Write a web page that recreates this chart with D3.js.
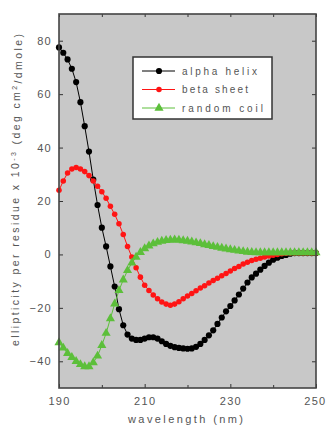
<!DOCTYPE html>
<html>
<head>
<meta charset="utf-8">
<script src="https://cdn.jsdelivr.net/npm/d3@7"></script>
<style>
  body { margin: 0; background: #fff; }
  svg text { font-family: "Liberation Sans", Arial, sans-serif; fill: #555; }
</style>
</head>
<body>
<div id="chart"></div>
<script>
// wavelength (nm), one reading per nm
let wavelength = [190,191,192,193,194,195,196,197,198,199,200,201,202,203,204,205,206,207,208,209,
  210,211,212,213,214,215,216,217,218,219,220,221,222,223,224,225,226,227,228,229,
  230,231,232,233,234,235,236,237,238,239,240,241,242,243,244,245,246,247,248,249,250];

let alphaHelix = [77.5,75.5,73,69.5,64.5,57,48,38.5,28,18.5,10,3,-4.5,-12,-20.5,-26.5,-30,-31.5,-32,-32,
  -31.5,-31,-31,-31.5,-32.5,-33.5,-34.2,-34.7,-35,-35.2,-35.3,-35.2,-34.6,-33.5,-32,-30.3,-28.4,-26,-23.6,-21.3,
  -19.3,-17.2,-15,-12.8,-10.5,-8.6,-7.2,-5.7,-4.3,-3.1,-2,-1.2,-0.6,-0.2,0.3,0.5,0.5,0.5,0.5,0.5,0.5];

let betaSheet = [24,27.5,30.5,32,32.5,32,31,29.5,27.5,25.5,23.5,21,18,15,11.5,7.5,3,-1,-5,-8.5,
  -11.5,-13.5,-15.2,-16.6,-17.8,-18.6,-19,-18.6,-17.7,-16.6,-15.6,-14.6,-13.6,-12.6,-11.7,-10.7,-9.8,-8.9,-8,-7.1,
  -6.2,-5.3,-4.5,-3.6,-2.9,-2.3,-1.8,-1.4,-1,-0.6,-0.3,0,0.3,0.4,0.5,0.5,0.5,0.5,0.5,0.5,0.5];

let randomCoil = [-33,-35,-37,-38.5,-40,-41.2,-42,-42,-40.5,-38,-34,-29.5,-24,-18.5,-13.5,-9.5,-6,-3.2,-1,0.8,
  2.2,3.2,4,4.6,5,5.3,5.4,5.5,5.4,5.2,5,4.7,4.4,4.1,3.7,3.4,3,2.7,2.4,2.1,
  1.8,1.6,1.3,1.1,0.9,0.8,0.7,0.7,0.7,0.7,0.7,0.7,0.7,0.7,0.7,0.7,0.7,0.7,0.7,0.7,0.7];

let seriesNames = ["alpha helix", "beta sheet", "random coil"];
let seriesColors = ["#000000", "#ff1414", "#5cbf3a"];
let xTicks = [190, 210, 230, 250];
let xMinorTicks = [200, 220, 240];
let yTicks = [80, 60, 40, 20, 0, -20, -40];

let svgWidth = 326;
let svgHeight = 428;
let margin = { top: 14, right: 10, bottom: 40, left: 59 };
let width = svgWidth - margin.left - margin.right;
let height = svgHeight - margin.top - margin.bottom;

let svg = d3.select("#chart")
  .append("svg")
  .attr("width", svgWidth)
  .attr("height", svgHeight);

let chartGroup = svg.append("g")
  .attr("transform", `translate(${margin.left}, ${margin.top})`);

let xScale = d3.scaleLinear().domain([190, 250]).range([0, width]);
let yScale = d3.scaleLinear().domain([-50, 90]).range([height, 0]);

// plot background
chartGroup.append("rect")
  .attr("width", width)
  .attr("height", height)
  .attr("fill", "#c8c8c8");

// axes, ticks pointing inward
function styleAxis(g) {
  g.select(".domain").remove();
  g.selectAll(".tick line").attr("stroke", "#333");
  g.selectAll("text")
    .attr("font-size", "11px")
    .attr("letter-spacing", "1.3px")
    .attr("fill", "#555");
}

let xAxisGroup = chartGroup.append("g")
  .attr("transform", `translate(0, ${height})`)
  .call(d3.axisBottom(xScale).tickValues(xTicks).tickSize(-4).tickPadding(9).tickFormat(d3.format("d")))
  .call(styleAxis);

// last label sits at the window edge, nudge it in
xAxisGroup.selectAll(".tick text")
  .filter(d => d === 250)
  .attr("text-anchor", "end")
  .attr("dx", "10px");

chartGroup.append("g")
  .attr("transform", `translate(0, ${height})`)
  .call(d3.axisBottom(xScale).tickValues(xMinorTicks).tickSize(-3).tickFormat(""))
  .call(styleAxis);

chartGroup.append("g")
  .call(d3.axisTop(xScale).tickValues(xTicks.concat(xMinorTicks)).tickSize(-3).tickFormat(""))
  .call(styleAxis);

chartGroup.append("g")
  .call(d3.axisLeft(yScale).tickValues(yTicks).tickSize(-4).tickPadding(7))
  .call(styleAxis);

chartGroup.append("g")
  .attr("transform", `translate(${width}, 0)`)
  .call(d3.axisRight(yScale).tickValues(yTicks).tickSize(-4).tickFormat(""))
  .call(styleAxis);

// series
let seriesData = [alphaHelix, betaSheet, randomCoil];
let symbols = [d3.symbolCircle, d3.symbolCircle, d3.symbolTriangle];
let symbolSizes = [30, 24, 36];

let line = d3.line()
  .x((d, i) => xScale(wavelength[i]))
  .y(d => yScale(d));

seriesData.forEach(function(values, s) {
  let g = chartGroup.append("g");
  g.append("path")
    .datum(values)
    .attr("d", line)
    .attr("fill", "none")
    .attr("stroke", seriesColors[s])
    .attr("stroke-width", 1);
  g.selectAll("path.marker")
    .data(values)
    .enter()
    .append("path")
    .attr("class", "marker")
    .attr("d", d3.symbol().type(symbols[s]).size(symbolSizes[s]))
    .attr("transform", (d, i) => `translate(${xScale(wavelength[i])}, ${yScale(d)})`)
    .attr("fill", seriesColors[s]);
});

// frame
chartGroup.append("rect")
  .attr("width", width)
  .attr("height", height)
  .attr("fill", "none")
  .attr("stroke", "#444")
  .attr("stroke-width", 1.6);

// legend
let legend = chartGroup.append("g")
  .attr("transform", `translate(${133 - margin.left}, ${57 - margin.top})`);

legend.append("rect")
  .attr("width", 139)
  .attr("height", 62)
  .attr("fill", "#fff")
  .attr("stroke", "#333")
  .attr("stroke-width", 1.5);

let legendWidths = [75, 66, 81];

seriesNames.forEach(function(name, s) {
  let y = 14 + s * 18.5;
  legend.append("line")
    .attr("x1", 9).attr("x2", 42)
    .attr("y1", y).attr("y2", y)
    .attr("stroke", seriesColors[s])
    .attr("stroke-width", 1);
  legend.append("path")
    .attr("d", d3.symbol().type(symbols[s]).size(symbolSizes[s]))
    .attr("transform", `translate(26, ${y})`)
    .attr("fill", seriesColors[s]);
  legend.append("text")
    .attr("x", 49)
    .attr("y", y)
    .attr("dy", "0.35em")
    .attr("font-size", "10px")
    .attr("textLength", legendWidths[s])
    .attr("lengthAdjust", "spacing")
    .attr("fill", "#666")
    .text(name);
});

// axis titles
chartGroup.append("text")
  .attr("x", width / 2 - 2)
  .attr("y", height + 35)
  .attr("text-anchor", "middle")
  .attr("font-size", "11px")
  .attr("textLength", 115)
  .attr("lengthAdjust", "spacing")
  .attr("fill", "#555")
  .text("wavelength (nm)");

let yTitle = chartGroup.append("text")
  .attr("transform", `translate(${15 - margin.left}, ${190 - margin.top}) rotate(-90)`)
  .attr("text-anchor", "middle")
  .attr("dy", "0.35em")
  .attr("font-size", "10.5px")
  .attr("textLength", 312)
  .attr("lengthAdjust", "spacing")
  .attr("fill", "#555");
yTitle.append("tspan").text("ellipticity per residue x 10");
yTitle.append("tspan").attr("dy", "-0.45em").attr("font-size", "7px").text("-3");
yTitle.append("tspan").attr("dy", "0.45em").text(" (deg cm");
yTitle.append("tspan").attr("dy", "-0.45em").attr("font-size", "7px").text("2");
yTitle.append("tspan").attr("dy", "0.45em").text("/dmole)");
</script>
</body>
</html>
